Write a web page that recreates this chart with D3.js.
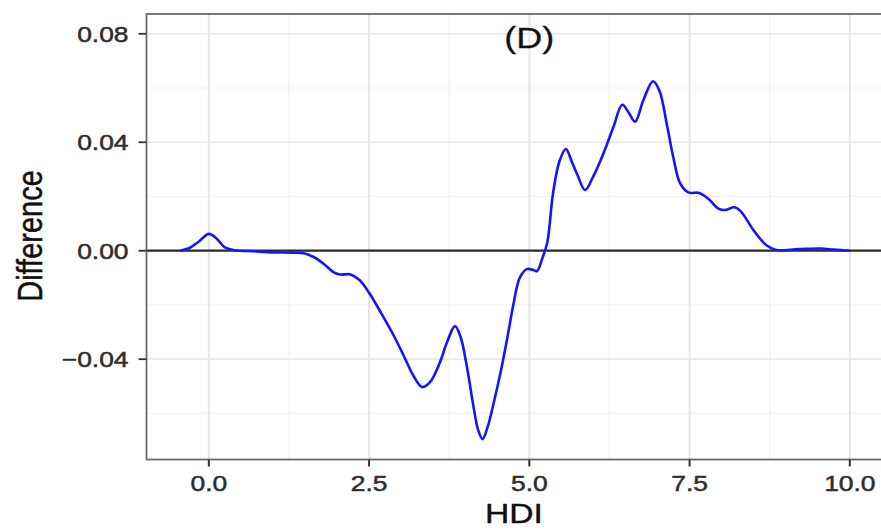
<!DOCTYPE html>
<html>
<head>
<meta charset="utf-8">
<script src="https://cdn.jsdelivr.net/npm/d3@7"></script>
<style>
  body { margin: 0; background: #fff; }
  svg { display: block; font-family: "Liberation Sans", Arial, Helvetica, sans-serif; }
</style>
</head>
<body>
<svg id="chart" width="881" height="530"></svg>
<script>
// HDI vs difference curve
const hdi = [-0.45, -0.30, -0.15, 0.00, 0.12, 0.25, 0.40, 0.70, 1.00, 1.30,
  1.50, 1.65, 1.80, 1.95, 2.05, 2.20, 2.35, 2.50, 2.70, 2.90,
  3.05, 3.20, 3.33, 3.45, 3.60, 3.72, 3.84, 3.93, 4.02, 4.13,
  4.20, 4.27, 4.35, 4.45, 4.55, 4.65, 4.75, 4.85, 4.96, 5.05,
  5.12, 5.20, 5.28, 5.37, 5.47, 5.57, 5.66, 5.75, 5.87, 6.00,
  6.15, 6.31, 6.45, 6.55, 6.65, 6.78, 6.93, 7.03, 7.15, 7.25,
  7.35, 7.48, 7.65, 7.80, 7.95, 8.05, 8.20, 8.30, 8.50, 8.70,
  8.85, 9.20, 9.55, 9.75, 10.00];
const difference = [0.0000, 0.0010, 0.0035, 0.0062, 0.0045, 0.0012, 0.0002, -0.0002, -0.0006, -0.0007,
  -0.0010, -0.0025, -0.0050, -0.0080, -0.0088, -0.0087, -0.0108, -0.0155, -0.0235, -0.0320,
  -0.0392, -0.0465, -0.0503, -0.0485, -0.0415, -0.0335, -0.0278, -0.0320, -0.0420, -0.0576,
  -0.0660, -0.0695, -0.0650, -0.0555, -0.0450, -0.0330, -0.0200, -0.0100, -0.0068, -0.0070,
  -0.0075, -0.0030, 0.0030, 0.0212, 0.0330, 0.0375, 0.0330, 0.0280, 0.0224, 0.0275,
  0.0355, 0.0455, 0.0538, 0.0510, 0.0476, 0.0556, 0.0625, 0.0590, 0.0460, 0.0340,
  0.0250, 0.0215, 0.0213, 0.0190, 0.0155, 0.0150, 0.0160, 0.0145, 0.0075, 0.0020,
  0.0003, 0.0006, 0.0008, 0.0004, 0.0000];

const xTicks = [0, 2.5, 5, 7.5, 10];
const xMinor = [1.25, 3.75, 6.25, 8.75];
const yTicks = [-0.04, 0, 0.04, 0.08];
const yMinor = [-0.06, -0.02, 0.02, 0.06];
const panelLabel = "(D)";

const svg = d3.select("#chart");

// the picture is stretched sideways, text gets the same squeeze
const stretch = 1.2;

const panel = { left: 146.5, right: 884.5, top: 14, bottom: 459.5 };

const x = d3.scaleLinear().domain([-0.9725, 10.5225]).range([panel.left, 883.3]);
const y = d3.scaleLinear().domain([-0.077, 0.0873]).range([panel.bottom, panel.top]);

const points = hdi.map((h, i) => ({ x: h, y: difference[i] }));

// grid
const grid = svg.append("g");
grid.selectAll(".minor-x").data(xMinor).enter().append("line")
  .attr("x1", d => x(d)).attr("x2", d => x(d))
  .attr("y1", panel.top).attr("y2", panel.bottom)
  .attr("stroke", "#f3f3f3").attr("stroke-width", 1.4);
grid.selectAll(".minor-y").data(yMinor).enter().append("line")
  .attr("y1", d => y(d)).attr("y2", d => y(d))
  .attr("x1", panel.left).attr("x2", panel.right)
  .attr("stroke", "#f3f3f3").attr("stroke-width", 1.2);
grid.selectAll(".major-x").data(xTicks).enter().append("line")
  .attr("x1", d => x(d)).attr("x2", d => x(d))
  .attr("y1", panel.top).attr("y2", panel.bottom)
  .attr("stroke", "#e6e6e6").attr("stroke-width", 2);
grid.selectAll(".major-y").data(yTicks).enter().append("line")
  .attr("y1", d => y(d)).attr("y2", d => y(d))
  .attr("x1", panel.left).attr("x2", panel.right)
  .attr("stroke", "#e9e9e9").attr("stroke-width", 1.6);

// zero line
svg.append("line")
  .attr("x1", panel.left).attr("x2", panel.right)
  .attr("y1", y(0)).attr("y2", y(0))
  .attr("stroke", "#2b2b2b").attr("stroke-width", 2.2);

// curve
const line = d3.line()
  .x(d => x(d.x))
  .y(d => y(d.y))
  .curve(d3.curveCatmullRom.alpha(0.5));

svg.append("path")
  .datum(points)
  .attr("d", line)
  .attr("fill", "none")
  .attr("stroke", "#1414ff")
  .attr("stroke-width", 2.6)
  .attr("stroke-linejoin", "round");

// panel border
svg.append("rect")
  .attr("x", panel.left).attr("y", panel.top)
  .attr("width", panel.right - panel.left)
  .attr("height", panel.bottom - panel.top)
  .attr("fill", "none")
  .attr("stroke", "#6a6a6a").attr("stroke-width", 1.8);

// ticks + labels
svg.selectAll(".y-tick").data(yTicks).enter().append("line")
  .attr("x1", panel.left - 8).attr("x2", panel.left)
  .attr("y1", d => y(d)).attr("y2", d => y(d))
  .attr("stroke", "#333").attr("stroke-width", 1.8);

svg.selectAll(".y-label").data(yTicks).enter().append("text")
  .attr("transform", d => `translate(${panel.left - 18},${y(d)}) scale(${stretch},1)`)
  .attr("dy", "0.36em")
  .attr("text-anchor", "end")
  .attr("font-size", 22)
  .attr("fill", "#2e2e2e")
  .attr("stroke", "#2e2e2e").attr("stroke-width", 0.5)
  .text(d => d === 0 ? "0.00" : d3.format(".2f")(d).replace("-", "\u2013"));

svg.selectAll(".x-tick").data(xTicks).enter().append("line")
  .attr("x1", d => x(d)).attr("x2", d => x(d))
  .attr("y1", panel.bottom).attr("y2", panel.bottom + 7)
  .attr("stroke", "#333").attr("stroke-width", 2);

svg.selectAll(".x-label").data(xTicks).enter().append("text")
  .attr("transform", d => `translate(${x(d)},491) scale(${stretch},1)`)
  .attr("text-anchor", "middle")
  .attr("font-size", 22)
  .attr("fill", "#2e2e2e")
  .attr("stroke", "#2e2e2e").attr("stroke-width", 0.5)
  .text(d => d3.format(".1f")(d));

// axis titles
svg.append("text")
  .attr("transform", `translate(514,523) scale(${stretch},1)`)
  .attr("text-anchor", "middle")
  .attr("font-size", 28)
  .attr("fill", "#111")
  .attr("stroke", "#111").attr("stroke-width", 0.4)
  .text("HDI");

svg.append("text")
  .attr("transform", `translate(42,236) scale(${stretch},1) rotate(-90)`)
  .attr("text-anchor", "middle")
  .attr("font-size", 29)
  .attr("fill", "#111")
  .attr("stroke", "#111").attr("stroke-width", 0.4)
  .text("Difference");

// panel tag
svg.append("text")
  .attr("transform", `translate(${x(5)},48) scale(${stretch},1)`)
  .attr("text-anchor", "middle")
  .attr("font-size", 30)
  .attr("fill", "#111")
  .attr("stroke", "#111").attr("stroke-width", 0.3)
  .text(panelLabel);
</script>
</body>
</html>
